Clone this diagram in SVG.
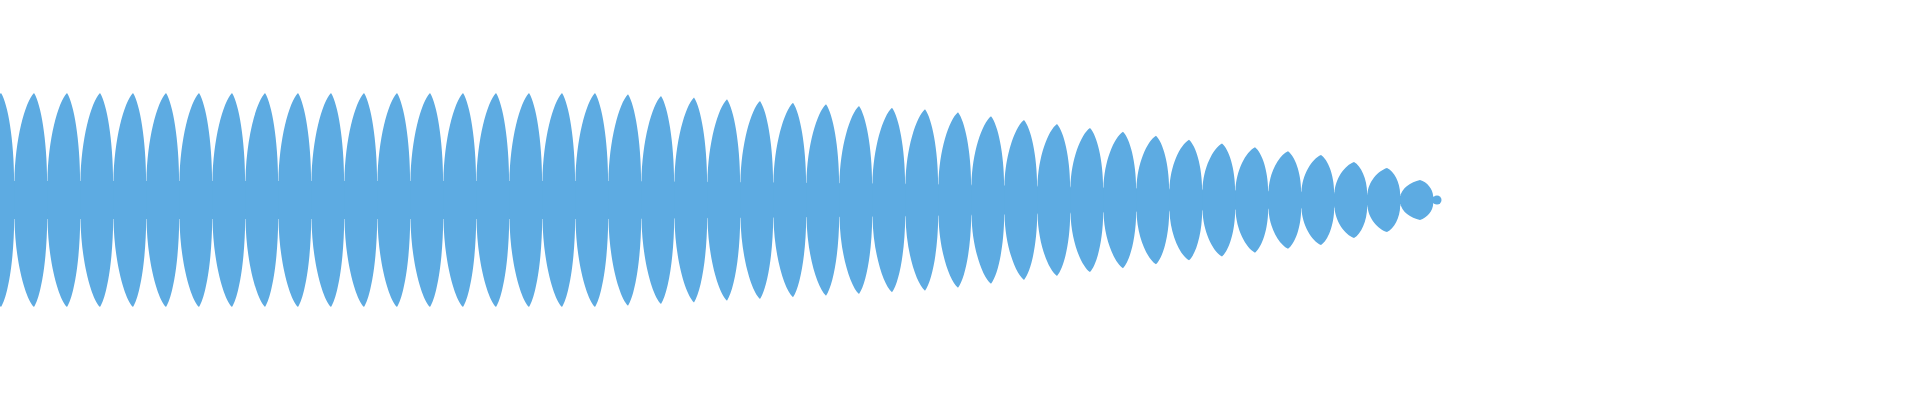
<svg xmlns="http://www.w3.org/2000/svg" xmlns:xlink="http://www.w3.org/1999/xlink" width="1920" height="400" viewBox="0 0 1920 400">
<defs>
<path id="l" d="M0.5,-19 C1,-60 11,-98 20,-107 C27,-96 33,-60 33.2,-19 L33.6,-19 L33.6,19 L33.2,19 C33,60 27,96 20,107 C11,98 1,60 0.5,19 Z"/>
</defs>
<style>use,circle,polygon{fill:#5DABE2}</style>
<rect width="1920" height="400" fill="#fff"/>
<g id="wave">
<polygon points="0,181 600,181 900,184 1300,192 1400,196 1434,197 1434,203 1400,204 1300,208 900,216 600,219 0,219"/>
<use href="#l" transform="translate(-19,200)"/>
<use href="#l" transform="translate(14,200)"/>
<use href="#l" transform="translate(47,200)"/>
<use href="#l" transform="translate(80,200)"/>
<use href="#l" transform="translate(113,200)"/>
<use href="#l" transform="translate(146,200)"/>
<use href="#l" transform="translate(179,200)"/>
<use href="#l" transform="translate(212,200)"/>
<use href="#l" transform="translate(245,200)"/>
<use href="#l" transform="translate(278,200)"/>
<use href="#l" transform="translate(311,200)"/>
<use href="#l" transform="translate(344,200)"/>
<use href="#l" transform="translate(377,200)"/>
<use href="#l" transform="translate(410,200)"/>
<use href="#l" transform="translate(443,200)"/>
<use href="#l" transform="translate(476,200)"/>
<use href="#l" transform="translate(509,200)"/>
<use href="#l" transform="translate(542,200)"/>
<use href="#l" transform="translate(575,200)"/>
<use href="#l" transform="translate(608,200) scale(1,.989)"/>
<use href="#l" transform="translate(641,200) scale(1,.973)"/>
<use href="#l" transform="translate(674,200) scale(1,.957)"/>
<use href="#l" transform="translate(707,200) scale(1,.941)"/>
<use href="#l" transform="translate(740,200) scale(1,.925)"/>
<use href="#l" transform="translate(773,200) scale(1,.910)"/>
<use href="#l" transform="translate(806,200) scale(1,.894)"/>
<use href="#l" transform="translate(839,200) scale(1,.879)"/>
<use href="#l" transform="translate(872,200) scale(1,.863)"/>
<use href="#l" transform="translate(905,200) scale(1,.848)"/>
<use href="#l" transform="translate(938,200) scale(1,.820)"/>
<use href="#l" transform="translate(971,200) scale(1,.783)"/>
<use href="#l" transform="translate(1004,200) scale(1,.747)"/>
<use href="#l" transform="translate(1037,200) scale(1,.710)"/>
<use href="#l" transform="translate(1070,200) scale(1,.674)"/>
<use href="#l" transform="translate(1103,200) scale(1,.637)"/>
<use href="#l" transform="translate(1136,200) scale(1,.601)"/>
<use href="#l" transform="translate(1169,200) scale(1,.564)"/>
<use href="#l" transform="translate(1202,200) scale(1,.528)"/>
<use href="#l" transform="translate(1235,200) scale(1,.492)"/>
<use href="#l" transform="translate(1268,200) scale(1,.455)"/>
<use href="#l" transform="translate(1301,200) scale(1,.421)"/>
<use href="#l" transform="translate(1334,200) scale(1,.355)"/>
<use href="#l" transform="translate(1367,200) scale(1,.299)"/>
<use href="#l" transform="translate(1400,200) scale(1,.187)"/>
<circle cx="1437" cy="200" r="4.5"/>
</g>
</svg>
